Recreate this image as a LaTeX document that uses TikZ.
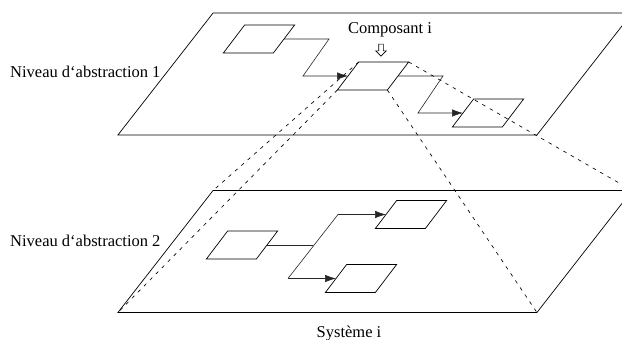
\documentclass[tikz,border=0pt]{standalone}
\usepackage{fontspec}
\setmainfont{Liberation Serif}
\usetikzlibrary{arrows.meta,shapes.arrows}

\begin{document}
\begin{tikzpicture}
      [%%%%%%%%%%%%%%%%%%%%%%%%%%%%%%
      x=1pt,y=-1pt,
      font=\fontsize{16.5}{19}\selectfont,
      plane/.style={rectangle,draw=black,line width=0.7pt,xslant=0.78,minimum width=419pt,minimum height=122pt,inner sep=0pt,outer sep=0pt},
      comp/.style={rectangle,draw=black,line width=0.7pt,xslant=0.76,minimum width=50pt,minimum height=28pt,inner sep=0pt,outer sep=0pt},
      link/.style={draw=black!85,line width=0.6pt},
      flow/.style={link,-{Latex[length=11pt,width=7.5pt]}},
      proj/.style={draw=black,line width=0.65pt,dash pattern=on 3.5pt off 5pt},
      lbl/.style={inner sep=0pt},
      ]%%%%%%%%%%%%%%%%%%%%%%%%%%%%%%
      \useasboundingbox (0,0) rectangle (622,340);

      % niveaux
      \node[plane] (upper) at (375,74) {};
      \node[plane] (lower) at (375,251.5) {};

      % composants du niveau 1
      \node[comp] (A) at (259,39) {};
      \node[comp] (B) at (373,76) {};
      \node[comp] (C) at (488,113) {};

      % composants du niveau 2
      \node[comp] (D) at (242,245) {};
      \node[comp] (E) at (411,214.5) {};
      \node[comp] (F) at (361,278.5) {};

      \draw[flow] (A.east) -- ++(45,0) -- ([xshift=-45pt]B.west) -- (B.west);
      \draw[flow] (B.east) -- ++(45,0) -- ([xshift=-45pt]C.west) -- (C.west);
      \draw[link] (D.east) -- ++(46,0);
      \draw[flow] ([xshift=-48pt]F.west) -- ([xshift=-48pt]E.west) -- (E.west);
      \draw[flow] ([xshift=-48pt]F.west) -- (F.west);

      % projection du composant i
      \draw[proj] (B.north west) -- (lower.north west);
      \draw[proj] (B.south west) -- (lower.south west);
      \draw[proj] (B.south east) -- (lower.south east);
      \draw[proj] (B.north east) -- (lower.north east);

      \node[lbl,anchor=base west] (niv1) at (10,77) {Niveau d‘abstraction 1};
      \node[lbl,anchor=base west] (niv2) at (10,246) {Niveau d‘abstraction 2};
      \node[lbl,anchor=base] (compi) at (390,34) {Composant i};
      \node[draw,single arrow,rotate=-90,minimum height=12pt,inner sep=2pt,
            single arrow head extend=3pt,single arrow tip angle=90,line width=0.6pt] (compArrow) at (381,49) {};
      \node[lbl,anchor=base] (sysi) at (349,337) {Système i};
    \end{tikzpicture}
\end{document}
